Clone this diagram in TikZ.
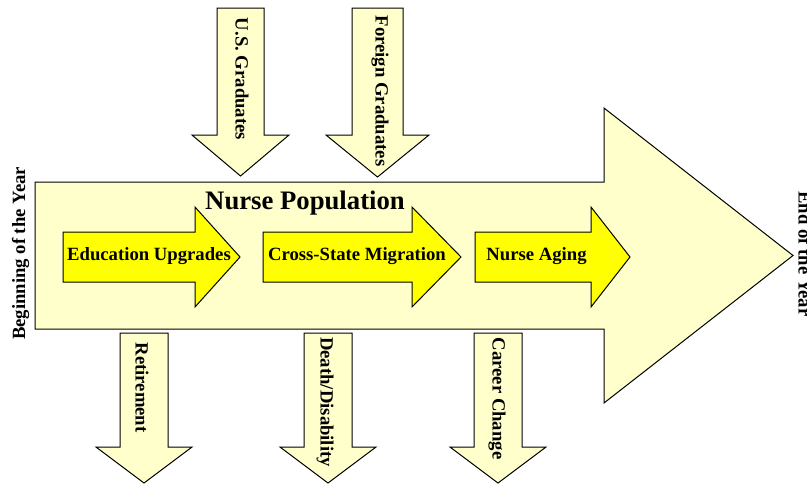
\documentclass[tikz,border=0pt]{standalone}
\usepackage{fontspec}
\setmainfont{Liberation Serif}
\usepackage{xcolor}
\usepackage{tikz}
\definecolor{paleyel}{HTML}{FFFFCC}
\definecolor{brightyel}{HTML}{FFFF00}
\tikzset{
  pale/.style={fill=paleyel,draw=black,line width=1pt},
  bright/.style={fill=brightyel,draw=black,line width=1pt},
  lbl/.style={font=\fontsize{18.7}{20}\selectfont\bfseries,inner sep=0pt},
  ttl/.style={font=\fontsize{26.7}{28}\selectfont\bfseries,inner sep=0pt}
}
\begin{document}
\begin{tikzpicture}[x=1pt,y=-1pt]
\useasboundingbox(0,0)rectangle(807,483);
% the year
\filldraw[pale](35,182)--(604,182)--(604,108)--(793,255.5)--(604,403)--(604,329)--(35,329)--cycle;
% flows in
\filldraw[pale](217,8)--(264,8)--(264,135)--(289,135)--(240.5,176)--(192,135)--(217,135)--cycle;
\filldraw[pale](352,8)--(403,8)--(403,135)--(429,135)--(377.5,177)--(326,135)--(352,135)--cycle;
% flows out
\filldraw[pale](120,333)--(168,333)--(168,447)--(192,447)--(144,483)--(96,447)--(120,447)--cycle;
\filldraw[pale](304,333)--(352,333)--(352,447)--(376,447)--(328,483)--(280,447)--(304,447)--cycle;
\filldraw[pale](474,333)--(522,333)--(522,447)--(546,447)--(498,483)--(450,447)--(474,447)--cycle;
% inner changes
\filldraw[bright](63,232)--(195,232)--(195,207)--(240,257)--(195,307)--(195,282)--(63,282)--cycle;
\filldraw[bright](263,232)--(412,232)--(412,207)--(461,257)--(412,307)--(412,282)--(263,282)--cycle;
\filldraw[bright](475,232)--(591,232)--(591,207)--(630,257)--(591,307)--(591,282)--(475,282)--cycle;
% texts
\node[ttl,anchor=base](pop) at (305,209){Nurse Population};
\node[lbl,anchor=base](edu) at (149,260.5){Education Upgrades};
\node[lbl,anchor=base](mig) at (357,260.5){Cross-State Migration};
\node[lbl,anchor=base](aging) at (536.5,260){Nurse Aging};
\node[lbl,rotate=90,anchor=base](begin) at (25,253.5){Beginning of the Year};
\node[lbl,rotate=-90,anchor=base](end) at (798.5,254){End of the Year};
\node[lbl,rotate=-90](usgrad) at (242,79){U.S. Graduates};
\node[lbl,rotate=-90](forgrad) at (380,91){Foreign Graduates};
\node[lbl,rotate=-90](retire) at (142,387.5){Retirement};
\node[lbl,rotate=-90](death) at (325,402){Death/Disability};
\node[lbl,rotate=-90](career) at (497,398.5){Career Change};
\end{tikzpicture}
\end{document}
